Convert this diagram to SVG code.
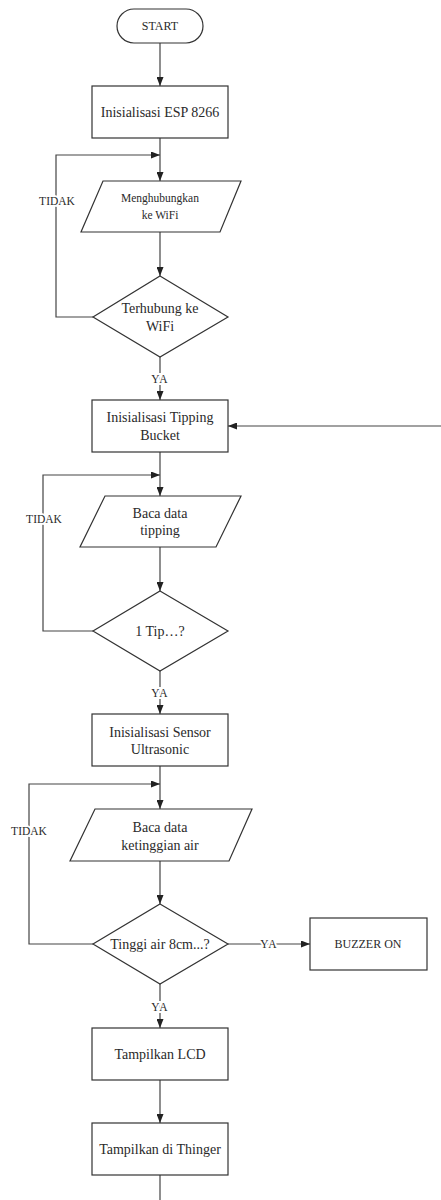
<svg xmlns="http://www.w3.org/2000/svg" width="441" height="1200" viewBox="0 0 441 1200">
<defs>
<marker id="arr" markerWidth="9" markerHeight="7" refX="9" refY="3.5" orient="auto" markerUnits="userSpaceOnUse">
<path d="M0,0 L9,3.5 L0,7 Z" fill="#222"/>
</marker>
<style>
.s{fill:#fff;stroke:#333;stroke-width:1.2}
.c{fill:none;stroke:#444;stroke-width:1.2}
text{font-family:'Liberation Serif','DejaVu Serif',serif}
.t{fill:#2a2a2a;text-anchor:middle;dominant-baseline:central}
.l{fill:#2a2a2a;text-anchor:middle;dominant-baseline:central;font-size:11.5px;stroke:#fff;stroke-width:4;paint-order:stroke}
</style>
</defs>
<rect width="441" height="1200" fill="#fff"/>
<g id="connectors">
<path class="c" d="M160,43 V86" marker-end="url(#arr)"/>
<path class="c" d="M160,138 V181" marker-end="url(#arr)"/>
<path class="c" d="M93,317 H56 V155 H160" marker-end="url(#arr)"/>
<path class="c" d="M160,232 V276" marker-end="url(#arr)"/>
<path class="c" d="M160,357 V400" marker-end="url(#arr)"/>
<path class="c" d="M441,426 H228" marker-end="url(#arr)"/>
<path class="c" d="M160,452 V496" marker-end="url(#arr)"/>
<path class="c" d="M93,631 H43 V475 H160" marker-end="url(#arr)"/>
<path class="c" d="M160,547 V591" marker-end="url(#arr)"/>
<path class="c" d="M160,671 V714" marker-end="url(#arr)"/>
<path class="c" d="M160,766 V809" marker-end="url(#arr)"/>
<path class="c" d="M93,944 H29 V784 H160" marker-end="url(#arr)"/>
<path class="c" d="M160,861 V904" marker-end="url(#arr)"/>
<path class="c" d="M228,944 H310" marker-end="url(#arr)"/>
<path class="c" d="M160,984 V1028" marker-end="url(#arr)"/>
<path class="c" d="M160,1080 V1123" marker-end="url(#arr)"/>
<path class="c" d="M160,1175 V1200"/>
<text class="l" x="57" y="201">TIDAK</text>
<text class="l" x="160" y="379" font-size="12px" letter-spacing="1">YA</text>
<text class="l" x="44" y="519">TIDAK</text>
<text class="l" x="160" y="693" font-size="12px" letter-spacing="1">YA</text>
<text class="l" x="29" y="831">TIDAK</text>
<text class="l" x="269" y="944" font-size="12px" letter-spacing="1">YA</text>
<text class="l" x="160" y="1007" font-size="12px" letter-spacing="1">YA</text>
</g>
<g id="start">
<rect class="s" x="117" y="9" width="86" height="34" rx="17"/>
<text class="t" x="160" y="26" font-size="12px">START</text>
</g>
<g id="init-esp">
<rect class="s" x="92" y="86" width="136" height="52"/>
<text class="t" x="160" y="112" font-size="14px">Inisialisasi ESP 8266</text>
</g>
<g id="connect-wifi">
<polygon class="s" points="103,181 241,181 220,232 81,232"/>
<text class="t" x="160" y="198" font-size="11.5px">Menghubungkan</text>
<text class="t" x="160" y="215" font-size="11.5px">ke WiFi</text>
</g>
<g id="wifi-decision">
<polygon class="s" points="160,276 228,317 160,357 93,317"/>
<text class="t" x="160" y="308" font-size="14px">Terhubung ke</text>
<text class="t" x="160" y="326" font-size="14px">WiFi</text>
</g>
<g id="init-tipping">
<rect class="s" x="92" y="400" width="136" height="52"/>
<text class="t" x="160" y="417" font-size="14px">Inisialisasi Tipping</text>
<text class="t" x="160" y="435" font-size="14px">Bucket</text>
</g>
<g id="read-tipping">
<polygon class="s" points="105,496 241,496 216,547 80,547"/>
<text class="t" x="160" y="513" font-size="14px">Baca data</text>
<text class="t" x="160" y="530" font-size="14px">tipping</text>
</g>
<g id="tip-decision">
<polygon class="s" points="160,591 228,631 160,671 93,631"/>
<text class="t" x="160" y="631" font-size="14px">1 Tip…?</text>
</g>
<g id="init-ultrasonic">
<rect class="s" x="92" y="714" width="136" height="52"/>
<text class="t" x="160" y="732" font-size="14px">Inisialisasi Sensor</text>
<text class="t" x="160" y="749" font-size="14px">Ultrasonic</text>
</g>
<g id="read-level">
<polygon class="s" points="95,809 252,809 229,861 70,861"/>
<text class="t" x="160" y="827" font-size="14px">Baca data</text>
<text class="t" x="160" y="845" font-size="14px">ketinggian air</text>
</g>
<g id="level-decision">
<polygon class="s" points="160,904 228,944 160,984 93,944"/>
<text class="t" x="160" y="944" font-size="14px">Tinggi air 8cm...?</text>
</g>
<g id="buzzer">
<rect class="s" x="310" y="918" width="117" height="52"/>
<text class="t" x="368" y="944" font-size="12px">BUZZER ON</text>
</g>
<g id="lcd">
<rect class="s" x="92" y="1028" width="136" height="52"/>
<text class="t" x="160" y="1054" font-size="14px">Tampilkan LCD</text>
</g>
<g id="thinger">
<rect class="s" x="92" y="1123" width="136" height="52"/>
<text class="t" x="160" y="1149" font-size="14px">Tampilkan di Thinger</text>
</g>
</svg>
